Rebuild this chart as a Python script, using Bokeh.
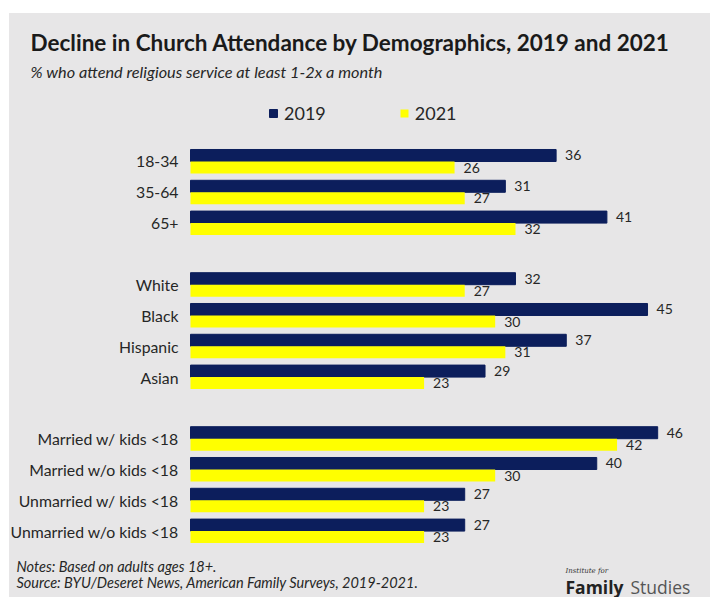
from bokeh.plotting import figure
from bokeh.layouts import column
from bokeh.models import FactorRange, Range1d, Legend, LegendItem, ColumnDataSource
from bokeh.transform import dodge
from bokeh.embed import file_html
from bokeh.resources import INLINE
from bokeh.core.properties import value

# ---------------- data ----------------
age_groups = ["18-34", "35-64", "65+"]
race_groups = ["White", "Black", "Hispanic", "Asian"]
family_groups = ["Married w/ kids <18", "Married w/o kids <18",
                 "Unmarried w/ kids <18", "Unmarried w/o kids <18"]
categories = age_groups + race_groups + family_groups
values_2019 = [36, 31, 41, 32, 45, 37, 29, 46, 40, 27, 27]
values_2021 = [26, 27, 32, 27, 30, 31, 23, 42, 30, 23, 23]
series_names = ["2019", "2021"]

title_text = "Decline in Church Attendance by Demographics, 2019 and 2021"
subtitle_text = "% who attend religious service at least 1-2x a month"
note_text = "Notes: Based on adults ages 18+."
source_text = "Source: BYU/Deseret News, American Family Surveys, 2019-2021."

# ---------------- style ----------------
BG = "#e7e6e7"
NAVY = "#0c1e5c"
YELLOW = "#ffff00"
TXT = "#262626"
FONT = "Lato"
W = 701
HEAD_H, MAIN_H, FOOT_H = 71, 462, 51
BAR_X0 = 181          # pixel where bars start inside the canvas
PXU = 10.156          # pixels per percentage point


def blank_fig(h):
    f = figure(width=W, height=h, x_range=Range1d(0, W), y_range=Range1d(h, 0),
               output_backend="svg", toolbar_location=None,
               x_axis_location=None, y_axis_location=None,
               min_border=0, background_fill_color=BG, border_fill_color=BG,
               outline_line_color=None)
    f.grid.visible = False
    return f


def put_text(f, x, y, text, size, style="normal", color=TXT, font=FONT):
    f.text(x=[x], y=[y], text=[text], text_font=value(font), text_font_size=size,
           text_font_style=style, text_color=color, text_baseline="alphabetic",
           text_align="left")


# ---------------- header ----------------
head = blank_fig(HEAD_H)
put_text(head, 21, 29, title_text, "22.5px", "bold", "#1a1a1a")
put_text(head, 21, 58, subtitle_text, "16.3px", "italic")

# ---------------- main chart ----------------
factors = ["_t1", "_t2"] + age_groups + ["_g1"] + race_groups + ["_g2"] + family_groups
factors = factors[::-1]

src = ColumnDataSource(dict(
    cat=categories,
    v2019=values_2019,
    v2021=values_2021,
    l2019=[str(v) for v in values_2019],
    l2021=[str(v) for v in values_2021],
    zero=[0] * len(categories),
))

p = figure(width=W, height=MAIN_H, y_range=FactorRange(*factors),
           x_range=Range1d(-BAR_X0 / PXU, (W - BAR_X0) / PXU),
           output_backend="svg", toolbar_location=None,
           x_axis_location=None, y_axis_location=None,
           min_border=0, background_fill_color=BG, border_fill_color=BG,
           outline_line_color=None)
p.y_range.range_padding = 0
p.grid.visible = False

OFF = 0.195
r1 = p.hbar(y=dodge("cat", OFF, range=p.y_range), right="v2019", left=0,
            height=0.39, source=src, fill_color=NAVY, line_color=NAVY)
r2 = p.hbar(y=dodge("cat", -OFF, range=p.y_range), right="v2021", left=0,
            height=0.39, source=src, fill_color=YELLOW, line_color=None)

p.text(x="v2019", y=dodge("cat", OFF, range=p.y_range), text="l2019", source=src,
       x_offset=9, text_baseline="middle", text_font=value(FONT),
       text_font_size="14px", text_color=TXT)
p.text(x="v2021", y=dodge("cat", -OFF, range=p.y_range), text="l2021", source=src,
       x_offset=9, text_baseline="middle", text_font=value(FONT),
       text_font_size="14px", text_color=TXT)

# category labels, right-aligned against the bar baseline
p.text(x="zero", y="cat", text="cat", source=src, x_offset=-12,
       text_align="right", text_baseline="middle", text_font=value(FONT),
       text_font_size="15.8px", text_color=TXT)

legend = Legend(items=[LegendItem(label=series_names[0], renderers=[r1]),
                       LegendItem(label=series_names[1], renderers=[r2])],
                orientation="horizontal", location=(259, 422),
                glyph_width=10, glyph_height=10, label_standoff=6, spacing=73,
                padding=0, margin=0, border_line_color=None,
                background_fill_alpha=0, label_text_font=FONT,
                label_text_font_size="18px", label_text_color=TXT)
p.add_layout(legend, "center")

# ---------------- footer ----------------
foot = blank_fig(FOOT_H)
put_text(foot, 7, 20, note_text, "14.5px", "italic")
put_text(foot, 7, 36, source_text, "14.5px", "italic")
put_text(foot, 556, 24, "Institute for", "7px", "italic", "#333333", "DejaVu Serif")
put_text(foot, 556, 40, "Family", "17.5px", "bold", "#222222", "Open Sans")
put_text(foot, 621, 40, "Studies", "17.5px", "normal", "#555555", "Open Sans")

layout = column(head, p, foot, spacing=0, margin=(13, 7, 0, 9),
                styles={"background-color": BG})
open("out.html", "w").write(file_html(layout, INLINE))
